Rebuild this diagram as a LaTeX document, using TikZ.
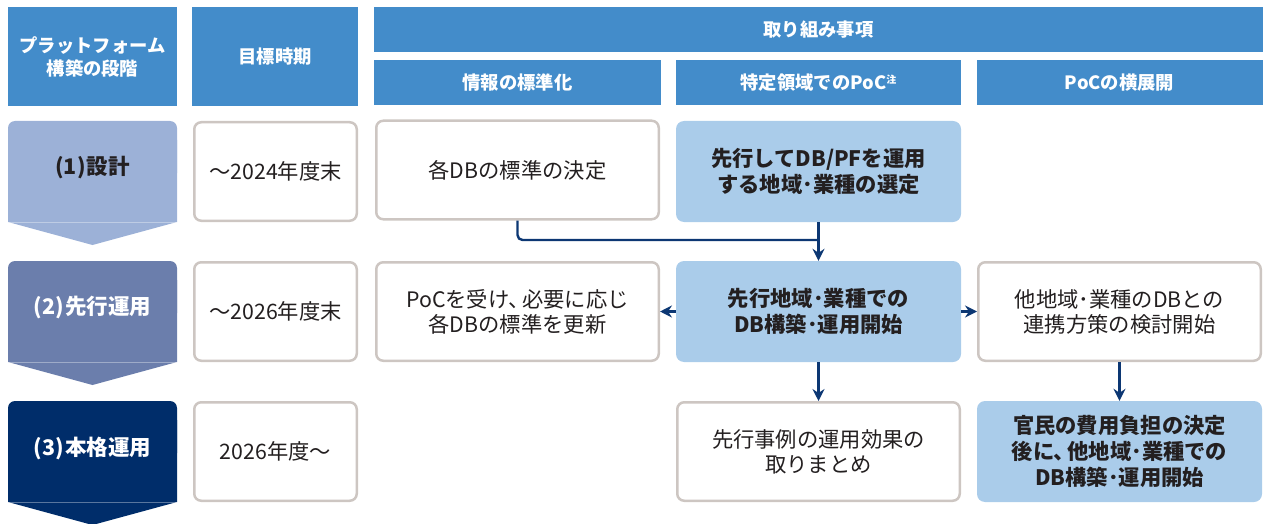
\documentclass[tikz,border=0pt]{standalone}
\usepackage{fontspec}
\setmainfont{Noto Sans CJK JP}
\usetikzlibrary{arrows.meta}
\definecolor{hdr}{RGB}{67,140,202}
\definecolor{sone}{RGB}{156,177,215}
\definecolor{stwo}{RGB}{107,126,172}
\definecolor{sthree}{RGB}{0,45,106}
\definecolor{lb}{RGB}{170,204,234}
\definecolor{bord}{RGB}{205,198,194}
\definecolor{arr}{RGB}{12,55,115}
\definecolor{txt}{RGB}{35,31,32}
\newcommand\tcomma{、\hspace{-0.35em}}
\tikzset{
  hdrbox/.style={fill=hdr, text=white, font=\fontsize{18.3}{23}\selectfont\bfseries, align=center, inner sep=0pt},
  wbox/.style={draw=bord, line width=2.5pt, fill=white, rounded corners=7pt, text=txt, align=center,
    font=\fontsize{21.3}{25}\selectfont, minimum width=282.5pt, minimum height=98.5pt, inner sep=0pt},
  fbox/.style={fill=lb, rounded corners=8pt, text=txt, align=center,
    font=\fontsize{21.3}{25.8}\selectfont\bfseries, minimum width=285pt, minimum height=101pt, inner sep=0pt},
  tbox/.style={wbox, minimum width=162.5pt},
  stlabel/.style={font=\fontsize{21.5}{24}\selectfont\bfseries, align=center},
  conn/.style={draw=arr, line width=2.4pt},
  tip/.style={conn, -{Stealth[length=12pt,width=12pt,inset=4pt]}}
}
\begin{document}
\begin{tikzpicture}[x=1pt,y=-1pt]
\useasboundingbox (0,0) rectangle (1263,524);
% headers
\node[hdrbox, minimum width=169pt, minimum height=99pt] (h1) at (92.5,57) {プラットフォーム\\構築の段階};
\node[hdrbox, minimum width=166pt, minimum height=99pt] (h2) at (275,57) {目標時期};
\node[hdrbox, minimum width=889pt, minimum height=45pt] (h3) at (818.5,29.5) {取り組み事項};
\node[hdrbox, minimum width=287pt, minimum height=45pt] (h4) at (517.5,82.5) {情報の標準化};
\node[hdrbox, minimum width=285pt, minimum height=45pt] (h5) at (818.5,82.5) {特定領域でのPoC\raisebox{0.55ex}{\fontsize{10}{10}\selectfont 注}};
\node[hdrbox, minimum width=286pt, minimum height=45pt] (h6) at (1119.5,82.5) {PoCの横展開};
% stage shapes
\fill[sone, rounded corners=7pt] (8,121) rectangle (177,180);
\fill[sone] (8,140) -- (177,140) -- (177,222) -- (92.5,245) -- (8,222) -- cycle;
\draw[white, opacity=.35, line width=.8pt] (8,222) -- (177,222);
\fill[stwo, rounded corners=7pt] (8,261) rectangle (177,320);
\fill[stwo] (8,280) -- (177,280) -- (177,362) -- (92.5,385) -- (8,362) -- cycle;
\draw[white, opacity=.35, line width=.8pt] (8,362) -- (177,362);
\fill[sthree, rounded corners=7pt] (8,401) rectangle (177,460);
\fill[sthree] (8,420) -- (177,420) -- (177,502) -- (92.5,525) -- (8,502) -- cycle;
\draw[white, opacity=.35, line width=.8pt] (8,502) -- (177,502);
\node[stlabel, text=txt] (s1) at (92.5,168) {(1)\kern1pt 設計};
\node[stlabel, text=white] (s2) at (92.5,308) {(2)\kern1pt 先行運用};
\node[stlabel, text=white] (s3) at (92.5,448) {(3)\kern1pt 本格運用};
% target periods
\node[tbox] (t1) at (275.5,171.5) {～2024年度末};
\node[tbox] (t2) at (275.5,311.5) {～2026年度末};
\node[tbox] (t3) at (275.5,451.5) {2026年度～};
% actions
\node[wbox] (dbstd) at (517.5,170) {各DBの標準の決定};
\node[fbox] (sel) at (818.5,171.5) {先行してDB/PFを運用\\する地域･業種の選定};
\node[wbox] (upd) at (517.5,311.5) {PoCを受け\tcomma 必要に応じ\\各DBの標準を更新};
\node[fbox] (lead) at (818.5,311.5) {先行地域･業種での\\DB構築･運用開始};
\node[wbox] (coop) at (1119.5,311.5) {他地域･業種のDBとの\\連携方策の検討開始};
\node[wbox] (summ) at (818.5,451.5) {先行事例の運用効果の\\取りまとめ};
\node[fbox] (pub) at (1119.5,451.5) {官民の費用負担の決定\\後に\tcomma 他地域･業種での\\DB構築･運用開始};
% connectors
\coordinate (j) at (818.5,240);
\draw[conn, rounded corners=5pt] (dbstd.south) |- (j);
\draw[tip] (sel.south) -- (lead.north);
\draw[tip] (lead.west) -- (upd.east);
\draw[tip] (lead.east) -- (coop.west);
\draw[tip] (lead.south) -- (summ.north);
\draw[tip] (coop.south) -- (pub.north);
\end{tikzpicture}
\end{document}
